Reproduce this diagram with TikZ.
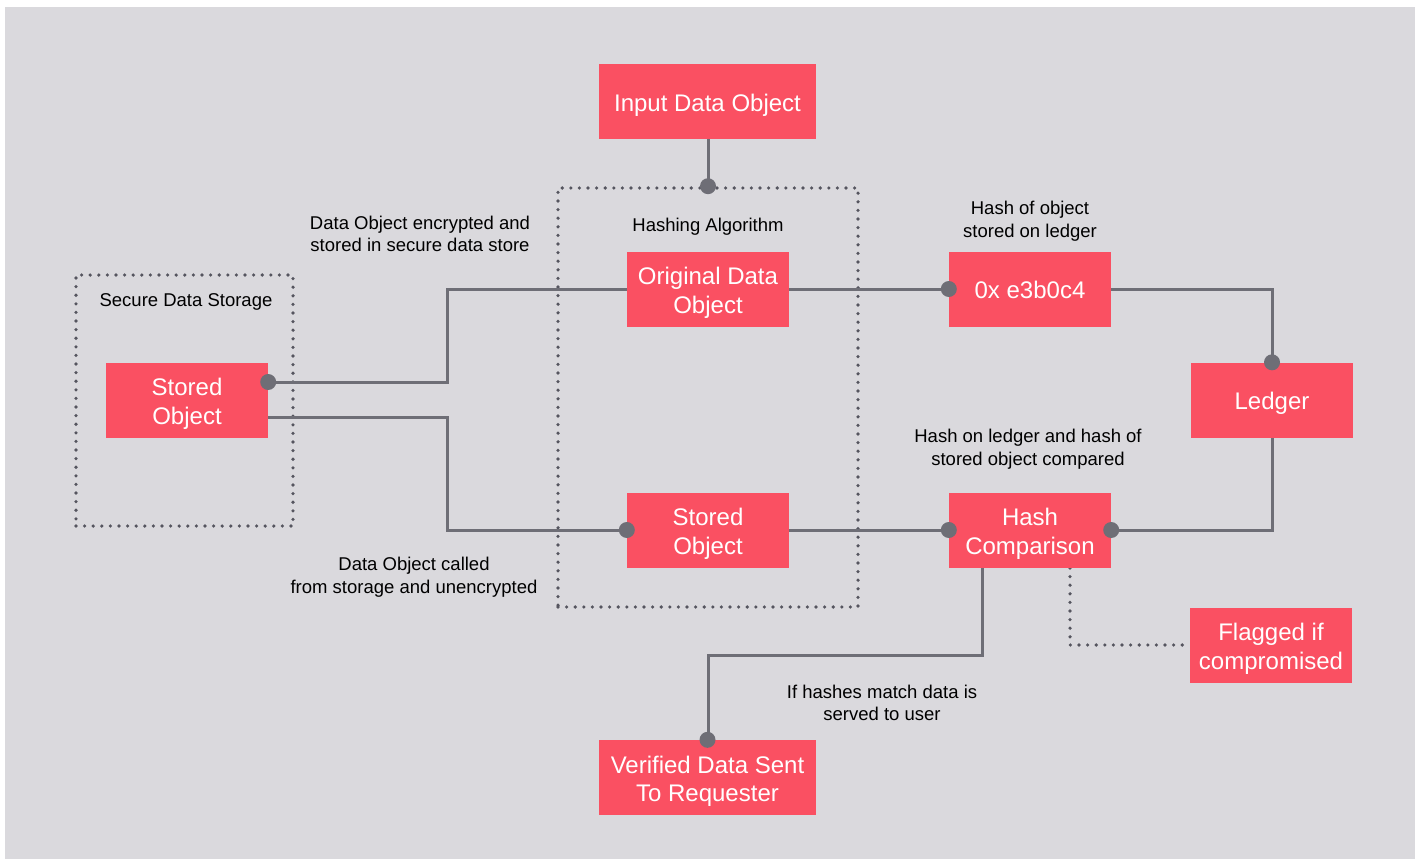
\documentclass[tikz,border=0pt]{standalone}
\usepackage{fontspec}
\setmainfont{Liberation Sans}
\usetikzlibrary{calc}
\definecolor{canvas}{RGB}{218,217,221}
\definecolor{boxred}{RGB}{250,80,98}
\definecolor{wirec}{RGB}{110,110,118}
\definecolor{dotc}{RGB}{85,85,95}

\begin{document}
\begin{tikzpicture}[x=1pt,y=-1pt,
  block/.style={fill=boxred, minimum width=162pt, minimum height=75pt, inner sep=0pt},
  wideblock/.style={block, minimum width=217pt},
  boxtext/.style={text=white, inner sep=0pt, align=center, yshift=-4pt,
    font=\fontsize{24}{28.5}\selectfont},
  note/.style={align=center, inner sep=0pt, text=black, font=\fontsize{18.5}{22.5}\selectfont},
  wire/.style={draw=wirec, line width=3pt},
  group/.style={draw=dotc, line width=3.6pt, dash pattern=on 0pt off 8.6pt,
    line cap=round, inner sep=0pt},
  flagline/.style={draw=dotc, line width=3.6pt, dash pattern=on 0pt off 8.6pt, line cap=round},
  joint/.style={fill=wirec}
]
% page and canvas
\useasboundingbox (0,0) rectangle (1418,859);
\fill[white] (0,0) rectangle (1418,859);
\fill[canvas] (5,7) rectangle (1415,859);

% dotted group frames
\node[group, minimum width=300pt, minimum height=419pt] (hashgrp) at (708,397.5) {};
\node[group, minimum width=217pt, minimum height=251pt] (storegrp) at (184.5,400.5) {};

% connectors (drawn first so the boxes sit on top)
\coordinate (hcL) at (982,568);
\coordinate (hcR) at (1070,568);
\draw[wire] (708,139) -- (hashgrp.north);
\draw[wire] (267,382) -- (447,382) -- (447,289) -- (627,289);
\draw[wire] (268,417) -- (447,417) -- (447,530) -- (627,530);
\draw[wire] (789,289) -- (949,289);
\draw[wire] (789,530) -- (949,530);
\draw[wire] (1111,289) -- (1272,289) -- (1272,362);
\draw[wire] (1272,437) -- (1272,530) -- (1111,530);
\draw[wire] (hcL) -- (982,655) -- (708,655) -- (708,740);
\draw[flagline] (hcR) -- (1070,645) -- (1190,645);

% blocks
\node[wideblock, label={[boxtext]center:Input Data Object}] (input) at (707.5,101.5) {};
\node[block, label={[boxtext]center:Original Data\\Object}] (orig) at (708,289) {};
\node[block, label={[boxtext]center:Stored\\Object}] (midstored) at (708,530) {};
\node[block, label={[boxtext]center:Stored\\Object}] (vault) at (187,400) {};
\node[block, label={[boxtext, yshift=3pt]center:0x e3b0c4}] (hashval) at (1030,289) {};
\node[block, label={[boxtext, yshift=1pt]center:Ledger}] (ledger) at (1272,400) {};
\node[block, label={[boxtext]center:Hash\\Comparison}] (compare) at (1030,530) {};
\node[block, label={[boxtext]center:Flagged if\\compromised}] (flag) at (1271,645) {};
\node[wideblock, label={[boxtext]center:Verified Data Sent\\To Requester}] (verified) at (707.5,777.5) {};

% joints
\fill[joint] (hashgrp.north) circle (8pt);
\fill[joint] (vault.east |- 0,382) circle (8pt);
\fill[joint] (midstored.west) circle (8pt);
\fill[joint] (hashval.west) circle (8pt);
\fill[joint] (ledger.north) circle (8pt);
\fill[joint] (compare.west) circle (8pt);
\fill[joint] (compare.east) circle (8pt);
\fill[joint] (verified.north) circle (8pt);

% captions
\node[note] (t1) at (708,227) {Hashing Algorithm};
\node[note] (t2) at (186,302) {Secure Data Storage};
\node[note] (t3) at (420,234) {Data Object encrypted and\\stored in secure data store};
\node[note] (t4) at (1030,221) {Hash of object\\stored on ledger};
\node[note] (t5) at (1028,449) {Hash on ledger and hash of\\stored object compared};
\node[note] (t6) at (414,577) {Data Object called\\from storage and unencrypted};
\node[note] (t7) at (882,703) {If hashes match data is\\served to user};
\end{tikzpicture}
\end{document}
